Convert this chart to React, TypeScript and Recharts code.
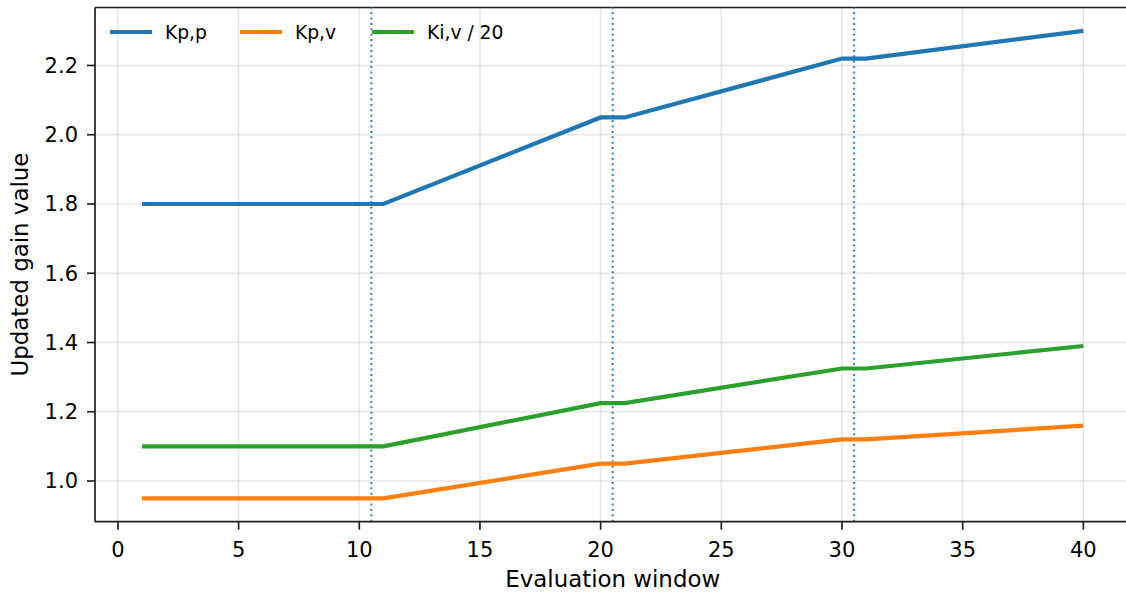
import {
  CartesianGrid,
  Line,
  LineChart,
  ReferenceLine,
  XAxis,
  YAxis,
} from 'recharts';

const windows = [1, 11, 20, 21, 30, 31, 40];
const kpp = [1.8, 1.8, 2.05, 2.05, 2.22, 2.22, 2.3];
const kpv = [0.95, 0.95, 1.05, 1.05, 1.12, 1.12, 1.16];
const kivScaled = [1.1, 1.1, 1.225, 1.225, 1.325, 1.325, 1.39];

const xTicks = [0, 5, 10, 15, 20, 25, 30, 35, 40];
const yTicks = [1.0, 1.2, 1.4, 1.6, 1.8, 2.0, 2.2];
const updateMarks = [10.5, 20.5, 30.5];

const seriesNames = ['Kp,p', 'Kp,v', 'Ki,v / 20'];
const seriesKeys = ['kpp', 'kpv', 'kiv'];
const colors = ['#1f77b4', '#ff7f0e', '#2ca02c'];

const data = windows.map((w, i) => ({
  window: w,
  kpp: kpp[i],
  kpv: kpv[i],
  kiv: kivScaled[i],
}));

const font = '"DejaVu Sans", sans-serif';
const tickStyle = { fontSize: 21, fill: '#000', fontFamily: font };

const legendSpots = [110, 240, 372];

export default function App() {
  return (
    <div
      style={{
        position: 'absolute',
        left: 0,
        top: 0,
        width: 1126,
        height: 594,
        overflow: 'hidden',
        background: '#fff',
        fontFamily: font,
      }}
    >
      <LineChart
        width={1140}
        height={594}
        data={data}
        margin={{ top: 7.5, right: 9.6, bottom: 0, left: 0 }}
      >
        <CartesianGrid stroke="#b0b0b0" strokeOpacity={0.3} strokeWidth={1.7} />
        <XAxis
          dataKey="window"
          type="number"
          domain={[-0.95, 41.95]}
          ticks={xTicks}
          height={72.3}
          tick={tickStyle}
          tickSize={8}
          tickMargin={12}
          stroke="#222"
          strokeWidth={1.7}
          label={{
            value: 'Evaluation window',
            position: 'insideBottom',
            offset: 7,
            style: { fontSize: 22.9, fill: '#000', fontFamily: font },
          }}
        />
        <YAxis
          type="number"
          domain={[0.8825, 2.3675]}
          ticks={yTicks}
          width={95}
          tick={tickStyle}
          tickFormatter={(v: number) => v.toFixed(1)}
          tickSize={8}
          tickMargin={9}
          stroke="#222"
          strokeWidth={1.7}
          label={{
            value: 'Updated gain value',
            angle: -90,
            position: 'insideLeft',
            offset: 20,
            style: { fontSize: 22.9, fill: '#000', fontFamily: font, textAnchor: 'middle' },
          }}
        />
        <ReferenceLine y={2.3675} stroke="#222" strokeWidth={1.7} />
        {updateMarks.map((x) => (
          <ReferenceLine
            key={x}
            x={x}
            stroke="#1f77b4"
            strokeOpacity={0.85}
            strokeWidth={2.2}
            strokeDasharray="2 3.4"
          />
        ))}
        {seriesKeys.map((k, i) => (
          <Line
            key={k}
            type="linear"
            dataKey={k}
            name={seriesNames[i]}
            stroke={colors[i]}
            strokeWidth={4.2}
            dot={false}
            isAnimationActive={false}
          />
        ))}
      </LineChart>
      {seriesNames.map((name, i) => (
        <div
          key={name}
          style={{
            position: 'absolute',
            left: legendSpots[i],
            top: 20,
            height: 24,
            display: 'flex',
            alignItems: 'center',
            fontSize: 18.7,
            color: '#000',
            whiteSpace: 'nowrap',
          }}
        >
          <span
            style={{
              display: 'inline-block',
              width: 42,
              height: 4,
              background: colors[i],
              marginRight: 13,
            }}
          />
          {name}
        </div>
      ))}
    </div>
  );
}
